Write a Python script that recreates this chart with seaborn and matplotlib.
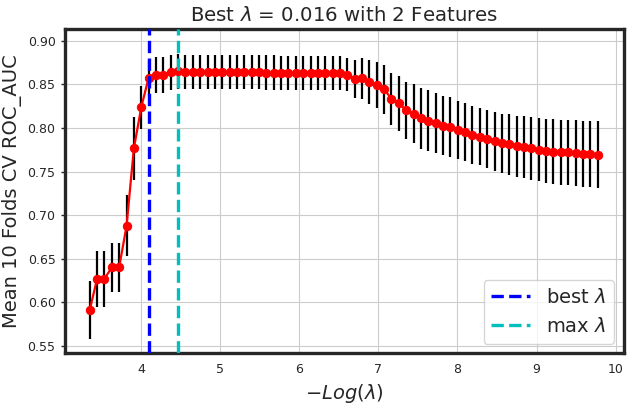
import matplotlib
matplotlib.use("Agg")
import matplotlib.pyplot as plt
import numpy as np
import pandas as pd
import seaborn as sns

# -log(lambda) grid used in the CV search
neg_log_lambda = [
    3.348, 3.441, 3.534, 3.627, 3.720, 3.814, 3.907, 4.000, 4.093, 4.186,
    4.279, 4.372, 4.465, 4.558, 4.651, 4.745, 4.838, 4.931, 5.024, 5.117,
    5.210, 5.303, 5.396, 5.489, 5.582, 5.676, 5.769, 5.862, 5.955, 6.048,
    6.141, 6.234, 6.327, 6.420, 6.513, 6.607, 6.700, 6.793, 6.886, 6.979,
    7.072, 7.165, 7.258, 7.351, 7.444, 7.538, 7.631, 7.724, 7.817, 7.910,
    8.003, 8.096, 8.189, 8.282, 8.375, 8.469, 8.562, 8.655, 8.748, 8.841,
    8.934, 9.027, 9.120, 9.213, 9.306, 9.400, 9.493, 9.586, 9.679, 9.772,
]

mean_auc = [
    0.591, 0.627, 0.627, 0.640, 0.640, 0.6876, 0.7767, 0.8237, 0.8573, 0.8604,
    0.8604, 0.8639, 0.8650, 0.8645, 0.8645, 0.8645, 0.8645, 0.8644, 0.8644, 0.8643,
    0.8643, 0.8642, 0.8640, 0.8636, 0.8635, 0.8635, 0.8634, 0.8633, 0.8633, 0.8632,
    0.8631, 0.8631, 0.8630, 0.8628, 0.8627, 0.8608, 0.8560, 0.8570, 0.8524, 0.8493,
    0.8444, 0.8333, 0.8283, 0.8203, 0.8164, 0.8111, 0.8084, 0.8054, 0.8026, 0.8011,
    0.7977, 0.7951, 0.7920, 0.7900, 0.7870, 0.7847, 0.7824, 0.7813, 0.7790, 0.7779,
    0.7767, 0.7751, 0.7740, 0.7728, 0.7721, 0.7721, 0.7710, 0.7702, 0.7702, 0.7690,
]

std_auc = [
    0.033, 0.032, 0.032, 0.0285, 0.0285, 0.035, 0.036, 0.0247, 0.021, 0.0205,
    0.0205, 0.020, 0.020, 0.0195, 0.0195, 0.0195, 0.0195, 0.0195, 0.0195, 0.0195,
    0.0195, 0.0195, 0.0195, 0.0195, 0.0195, 0.0195, 0.0195, 0.0195, 0.0195, 0.0195,
    0.0195, 0.0195, 0.0195, 0.0195, 0.0195, 0.019, 0.0216, 0.0235, 0.025, 0.0267,
    0.028, 0.030, 0.0315, 0.0325, 0.034, 0.035, 0.0345, 0.0345, 0.034, 0.034,
    0.0335, 0.033, 0.033, 0.033, 0.0335, 0.034, 0.034, 0.0348, 0.035, 0.0355,
    0.036, 0.0363, 0.0366, 0.037, 0.0372, 0.0375, 0.0378, 0.038, 0.038, 0.0384,
]

best_idx = 8
best_lambda_text = "0.016"
n_features = 2

df = pd.DataFrame({"x": neg_log_lambda, "mean": mean_auc, "std": std_auc})
max_idx = int(df["mean"].idxmax())

sns.set_style("whitegrid")
plt.rcParams.update({
    "axes.edgecolor": ".15",
    "axes.linewidth": 2.4,
    "ytick.left": True,
    "ytick.major.size": 3,
    "ytick.major.width": 1,
    "ytick.color": ".15",
    "xtick.color": ".15",
    "xtick.bottom": False,
    "font.family": ["DejaVu Sans"],
})

fig = plt.figure(figsize=(6.33, 4.08), dpi=100)
ax = fig.add_axes([0.102, 0.134, 0.883, 0.795])

# error bars (mean +/- std) behind the curve
ax.vlines(df["x"], df["mean"] - df["std"], df["mean"] + df["std"],
          color="k", linewidth=1.6, zorder=2)
sns.lineplot(data=df, x="x", y="mean", color="red", marker="o", markersize=6,
             markeredgecolor="red", linewidth=1.6, ax=ax, zorder=3)

ax.axvline(df["x"][best_idx], color="b", linestyle="--", linewidth=2.4,
           label=r"best $\lambda$", zorder=4)
ax.axvline(df["x"][max_idx], color="c", linestyle="--", linewidth=2.4,
           label=r"max $\lambda$", zorder=4)

ax.set_xlim(3.03, 10.10)
ax.set_ylim(0.5416, 0.9134)
ax.tick_params(axis="both", labelsize=9)
ax.set_xlabel(r"$-Log(\lambda)$", fontsize=14)
ax.set_ylabel("Mean 10 Folds CV ROC_AUC", fontsize=14)
ax.set_title(rf"Best $\lambda$ = {best_lambda_text} with {n_features} Features", fontsize=14.2)
leg = ax.legend(loc="lower right", fontsize=14)
leg.get_frame().set_edgecolor("0.8")
leg.get_frame().set_linewidth(1.0)

fig.savefig("out.png", dpi=100)
plt.close(fig)
